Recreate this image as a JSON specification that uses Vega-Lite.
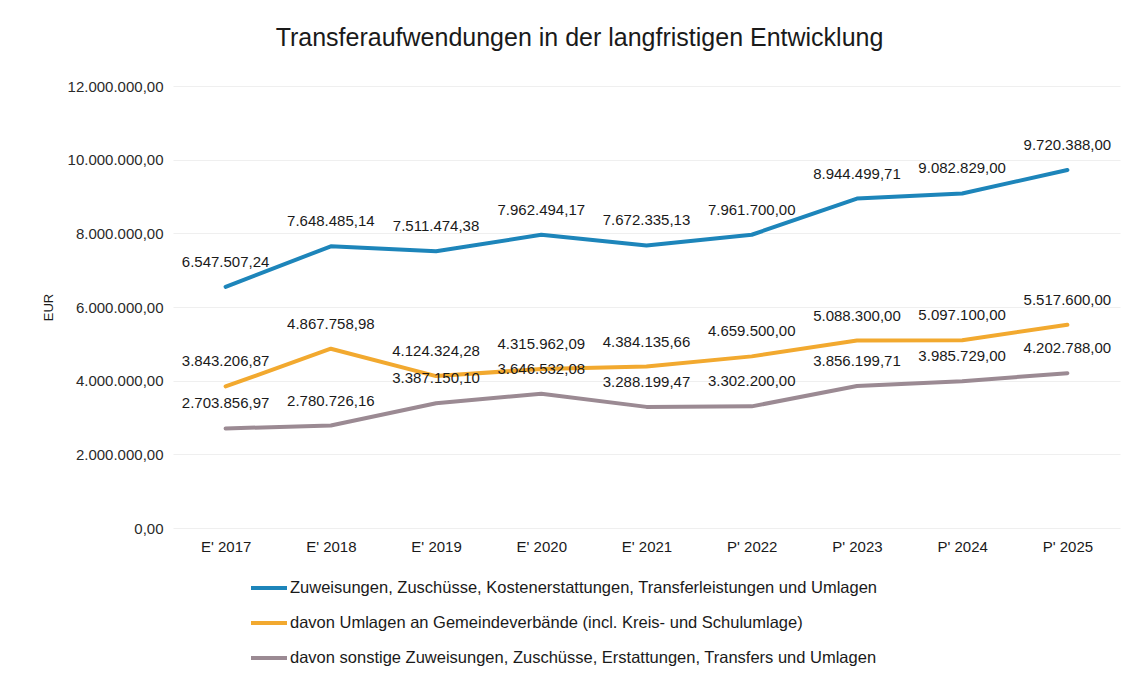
{
  "$schema": "https://vega.github.io/schema/vega-lite/v6.json",
  "autosize": {"type": "none"},
  "width": 947,
  "height": 442,
  "padding": {"left": 173, "top": 86, "right": 7, "bottom": 150},
  "background": "white",
  "config": {
    "locale": {"number": {"decimal": ",", "thousands": ".", "grouping": [3], "currency": ["", " €"]}},
    "view": {"stroke": null},
    "font": "Liberation Sans"
  },
  "title": {
    "text": "Transferaufwendungen in der langfristigen Entwicklung",
    "fontSize": 25,
    "fontWeight": "normal",
    "color": "#1a1a1a",
    "anchor": "middle",
    "dx": -67,
    "offset": 28
  },
  "data": {
    "values": [
      {"jahr": "E' 2017", "reihe": "Zuweisungen, Zuschüsse, Kostenerstattungen, Transferleistungen und Umlagen", "wert": 6547507.24},
      {"jahr": "E' 2018", "reihe": "Zuweisungen, Zuschüsse, Kostenerstattungen, Transferleistungen und Umlagen", "wert": 7648485.14},
      {"jahr": "E' 2019", "reihe": "Zuweisungen, Zuschüsse, Kostenerstattungen, Transferleistungen und Umlagen", "wert": 7511474.38},
      {"jahr": "E' 2020", "reihe": "Zuweisungen, Zuschüsse, Kostenerstattungen, Transferleistungen und Umlagen", "wert": 7962494.17},
      {"jahr": "E' 2021", "reihe": "Zuweisungen, Zuschüsse, Kostenerstattungen, Transferleistungen und Umlagen", "wert": 7672335.13},
      {"jahr": "P' 2022", "reihe": "Zuweisungen, Zuschüsse, Kostenerstattungen, Transferleistungen und Umlagen", "wert": 7961700.00},
      {"jahr": "P' 2023", "reihe": "Zuweisungen, Zuschüsse, Kostenerstattungen, Transferleistungen und Umlagen", "wert": 8944499.71},
      {"jahr": "P' 2024", "reihe": "Zuweisungen, Zuschüsse, Kostenerstattungen, Transferleistungen und Umlagen", "wert": 9082829.00},
      {"jahr": "P' 2025", "reihe": "Zuweisungen, Zuschüsse, Kostenerstattungen, Transferleistungen und Umlagen", "wert": 9720388.00},
      {"jahr": "E' 2017", "reihe": "davon Umlagen an Gemeindeverbände (incl. Kreis- und Schulumlage)", "wert": 3843206.87},
      {"jahr": "E' 2018", "reihe": "davon Umlagen an Gemeindeverbände (incl. Kreis- und Schulumlage)", "wert": 4867758.98},
      {"jahr": "E' 2019", "reihe": "davon Umlagen an Gemeindeverbände (incl. Kreis- und Schulumlage)", "wert": 4124324.28},
      {"jahr": "E' 2020", "reihe": "davon Umlagen an Gemeindeverbände (incl. Kreis- und Schulumlage)", "wert": 4315962.09},
      {"jahr": "E' 2021", "reihe": "davon Umlagen an Gemeindeverbände (incl. Kreis- und Schulumlage)", "wert": 4384135.66},
      {"jahr": "P' 2022", "reihe": "davon Umlagen an Gemeindeverbände (incl. Kreis- und Schulumlage)", "wert": 4659500.00},
      {"jahr": "P' 2023", "reihe": "davon Umlagen an Gemeindeverbände (incl. Kreis- und Schulumlage)", "wert": 5088300.00},
      {"jahr": "P' 2024", "reihe": "davon Umlagen an Gemeindeverbände (incl. Kreis- und Schulumlage)", "wert": 5097100.00},
      {"jahr": "P' 2025", "reihe": "davon Umlagen an Gemeindeverbände (incl. Kreis- und Schulumlage)", "wert": 5517600.00},
      {"jahr": "E' 2017", "reihe": "davon sonstige Zuweisungen, Zuschüsse, Erstattungen, Transfers und Umlagen", "wert": 2703856.97},
      {"jahr": "E' 2018", "reihe": "davon sonstige Zuweisungen, Zuschüsse, Erstattungen, Transfers und Umlagen", "wert": 2780726.16},
      {"jahr": "E' 2019", "reihe": "davon sonstige Zuweisungen, Zuschüsse, Erstattungen, Transfers und Umlagen", "wert": 3387150.10},
      {"jahr": "E' 2020", "reihe": "davon sonstige Zuweisungen, Zuschüsse, Erstattungen, Transfers und Umlagen", "wert": 3646532.08},
      {"jahr": "E' 2021", "reihe": "davon sonstige Zuweisungen, Zuschüsse, Erstattungen, Transfers und Umlagen", "wert": 3288199.47},
      {"jahr": "P' 2022", "reihe": "davon sonstige Zuweisungen, Zuschüsse, Erstattungen, Transfers und Umlagen", "wert": 3302200.00},
      {"jahr": "P' 2023", "reihe": "davon sonstige Zuweisungen, Zuschüsse, Erstattungen, Transfers und Umlagen", "wert": 3856199.71},
      {"jahr": "P' 2024", "reihe": "davon sonstige Zuweisungen, Zuschüsse, Erstattungen, Transfers und Umlagen", "wert": 3985729.00},
      {"jahr": "P' 2025", "reihe": "davon sonstige Zuweisungen, Zuschüsse, Erstattungen, Transfers und Umlagen", "wert": 4202788.00}
    ]
  },
  "encoding": {
    "x": {
      "field": "jahr",
      "type": "ordinal",
      "sort": null,
      "scale": {"type": "point", "padding": 0.5},
      "axis": {
        "title": null,
        "labelAngle": 0,
        "domain": false,
        "ticks": false,
        "grid": false,
        "labelFontSize": 15,
        "labelColor": "#1a1a1a",
        "labelPadding": 11
      }
    },
    "y": {
      "field": "wert",
      "type": "quantitative",
      "scale": {"domain": [0, 12000000]},
      "axis": {
        "title": "EUR",
        "titleFontSize": 13,
        "titleFontWeight": "normal",
        "titleColor": "#1a1a1a",
        "titleX": -125,
        "titleY": 221,
        "titleAngle": -90,
        "titleAlign": "center",
        "titleBaseline": "middle",
        "values": [0, 2000000, 4000000, 6000000, 8000000, 10000000, 12000000],
        "format": ",.2f",
        "domain": false,
        "ticks": false,
        "grid": true,
        "gridColor": "#efefef",
        "gridWidth": 1,
        "labelFontSize": 15,
        "labelColor": "#2a2a2a",
        "labelPadding": 10
      }
    },
    "color": {
      "field": "reihe",
      "type": "nominal",
      "sort": null,
      "scale": {
        "domain": [
          "Zuweisungen, Zuschüsse, Kostenerstattungen, Transferleistungen und Umlagen",
          "davon Umlagen an Gemeindeverbände (incl. Kreis- und Schulumlage)",
          "davon sonstige Zuweisungen, Zuschüsse, Erstattungen, Transfers und Umlagen"
        ],
        "range": ["#1d85ba", "#f2a92f", "#9b8a93"]
      },
      "legend": {
        "title": null,
        "orient": "none",
        "legendX": 76,
        "legendY": 482,
        "direction": "vertical",
        "symbolType": "stroke",
        "symbolSize": 1296,
        "symbolStrokeWidth": 4,
        "labelFontSize": 16.5,
        "labelColor": "#1a1a1a",
        "labelLimit": 900,
        "labelOffset": 1,
        "rowPadding": 6
      }
    }
  },
  "layer": [
    {
      "mark": {"type": "line", "strokeWidth": 4, "strokeCap": "round", "strokeJoin": "round"}
    },
    {
      "mark": {"type": "text", "dy": -25, "fontSize": 15, "color": "#1a1a1a"},
      "encoding": {
        "text": {"field": "wert", "type": "quantitative", "format": ",.2f"},
        "color": {"value": "#1a1a1a"}
      }
    }
  ]
}
